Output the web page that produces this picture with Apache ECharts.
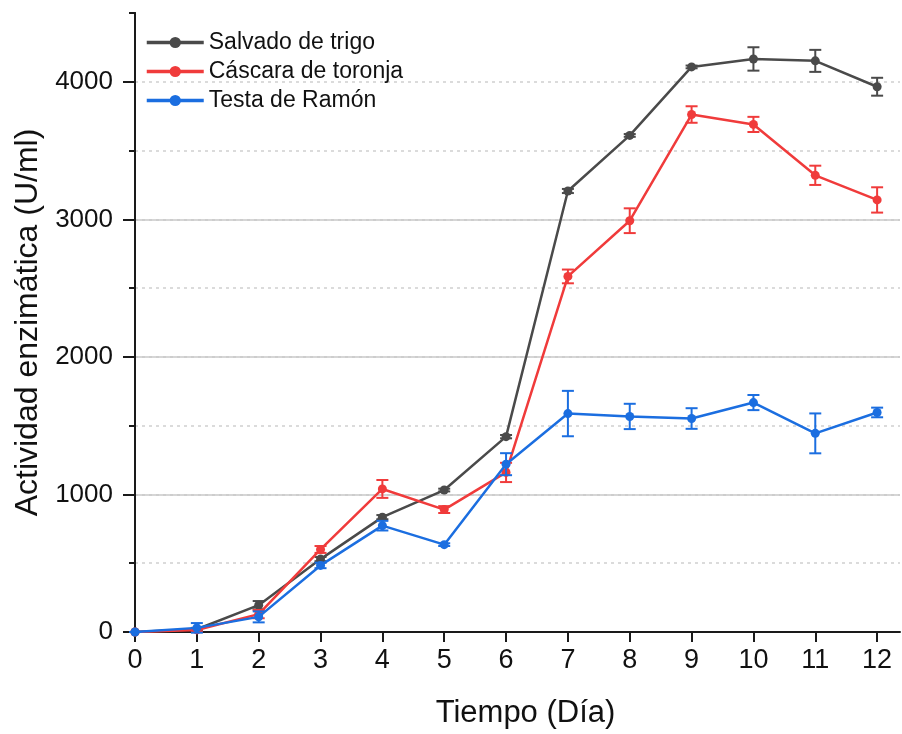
<!DOCTYPE html>
<html><head><meta charset="utf-8">
<script src="https://cdn.jsdelivr.net/npm/echarts@6/dist/echarts.min.js"></script>
<style>html,body{margin:0;padding:0;background:#fff}#c{width:902px;height:734px}</style>
</head><body><div id="c"></div>
<script>
const days = [0,1,2,3,4,5,6,7,8,9,10,11,12];
const salvadoMean = [0,20,195,530,835,1032,1420,3206,3610,4108,4166,4152,3964];
const salvadoErr  = [0,10,30,15,15,10,12,15,10,10,85,80,65];
const cascaraMean = [0,15,130,600,1040,890,1160,2585,2990,3762,3690,3320,3141];
const cascaraErr  = [0,10,30,25,65,25,70,50,90,60,55,70,92];
const testaMean   = [0,30,110,484,773,635,1220,1588,1567,1552,1668,1444,1596];
const testaErr    = [0,35,40,20,35,10,80,165,92,75,55,145,35];
const seriesNames = ['Salvado de trigo','Cáscara de toronja','Testa de Ramón'];
const colors = ['#4a4a4a','#f03b3b','#1b6ee0'];
const yMajorLabels = [0,1000,2000,3000,4000];
const xLabels = [0,1,2,3,4,5,6,7,8,9,10,11,12];

const font = 'Liberation Sans, Arial, sans-serif';
const chart = echarts.init(document.getElementById('c'));

function lineSeries(name, mean, color, z){
  return {name, type:'line', xAxisIndex:0, yAxisIndex:1,
    data: days.map((d,i)=>[d,mean[i]]),
    symbol:'circle', symbolSize:9, showSymbol:true,
    lineStyle:{color, width:2.5}, itemStyle:{color}, z:z};
}
function errSeries(name, mean, err, color, z){
  return {name, type:'custom', xAxisIndex:0, yAxisIndex:1,
    data: days.map((d,i)=>[d, mean[i]-err[i], mean[i]+err[i]]),
    renderItem:function(params, api){
      const x = api.value(0);
      const lo = api.coord([x, api.value(1)]);
      const hi = api.coord([x, api.value(2)]);
      const w = 6;
      const st = {stroke:color, lineWidth:2, fill:null};
      return {type:'group', children:[
        {type:'line', shape:{x1:lo[0],y1:lo[1],x2:hi[0],y2:hi[1]}, style:st},
        {type:'line', shape:{x1:lo[0]-w,y1:lo[1],x2:lo[0]+w,y2:lo[1]}, style:st},
        {type:'line', shape:{x1:hi[0]-w,y1:hi[1],x2:hi[0]+w,y2:hi[1]}, style:st}
      ]};
    }, z:z, silent:true};
}

const option = {
  animation:false,
  backgroundColor:'#fff',
  grid:{left:135, top:13, right:2, bottom:97, containLabel:false},
  legend:{
    orient:'vertical', left:140, top:26, itemGap:6, itemWidth:57, itemHeight:14,
    data: seriesNames.map((n,i)=>({name:n, lineStyle:{width:3.5}})),
    textStyle:{fontFamily:font, fontSize:23, color:'#111'}
  },
  xAxis:[{
    type:'value', min:0, max:12.37, interval:1,
    name:'Tiempo (Día)', nameLocation:'middle', nameGap:66,
    nameTextStyle:{fontFamily:font, fontSize:31, color:'#111', padding:[0,0,0,16]},
    axisLine:{show:true, onZero:false, lineStyle:{color:'#1a1a1a', width:2}},
    axisTick:{show:true, inside:false, length:10, lineStyle:{color:'#1a1a1a', width:2}, customValues:xLabels},
    axisLabel:{fontFamily:font, fontSize:27, color:'#111', margin:15, customValues:xLabels},
    splitLine:{show:false}
  }],
  yAxis:[{
    type:'value', min:0, max:4500, interval:500, position:'left',
    axisLine:{show:true, lineStyle:{color:'#1a1a1a', width:2}},
    axisTick:{show:true, length:6, lineStyle:{color:'#1a1a1a', width:2}},
    axisLabel:{show:false},
    splitLine:{show:true, showMinLine:false, showMaxLine:false, lineStyle:{color:'#d0d0d0', width:1.5, type:[3,4]}}
  },{
    type:'value', min:0, max:4500, interval:1000, position:'left',
    name:'Actividad enzimática (U/ml)', nameLocation:'middle', nameGap:87,
    nameTextStyle:{fontFamily:font, fontSize:32, color:'#111'},
    axisLine:{show:true, lineStyle:{color:'#1a1a1a', width:2}},
    axisTick:{show:true, length:12, lineStyle:{color:'#1a1a1a', width:2}, customValues:yMajorLabels},
    axisLabel:{fontFamily:font, fontSize:26, color:'#111', margin:22, customValues:yMajorLabels,
      formatter:function(v){return String(v);}},
    splitLine:{show:true, showMinLine:false, showMaxLine:false, lineStyle:{color:'#c8c8c8', width:1.5}}
  }],
  series:[
    lineSeries(seriesNames[0], salvadoMean, colors[0], 3),
    lineSeries(seriesNames[1], cascaraMean, colors[1], 5),
    lineSeries(seriesNames[2], testaMean, colors[2], 7),
    errSeries(seriesNames[0], salvadoMean, salvadoErr, colors[0], 2),
    errSeries(seriesNames[1], cascaraMean, cascaraErr, colors[1], 4),
    errSeries(seriesNames[2], testaMean, testaErr, colors[2], 6)
  ]
};
chart.setOption(option);
</script>
</body></html>
